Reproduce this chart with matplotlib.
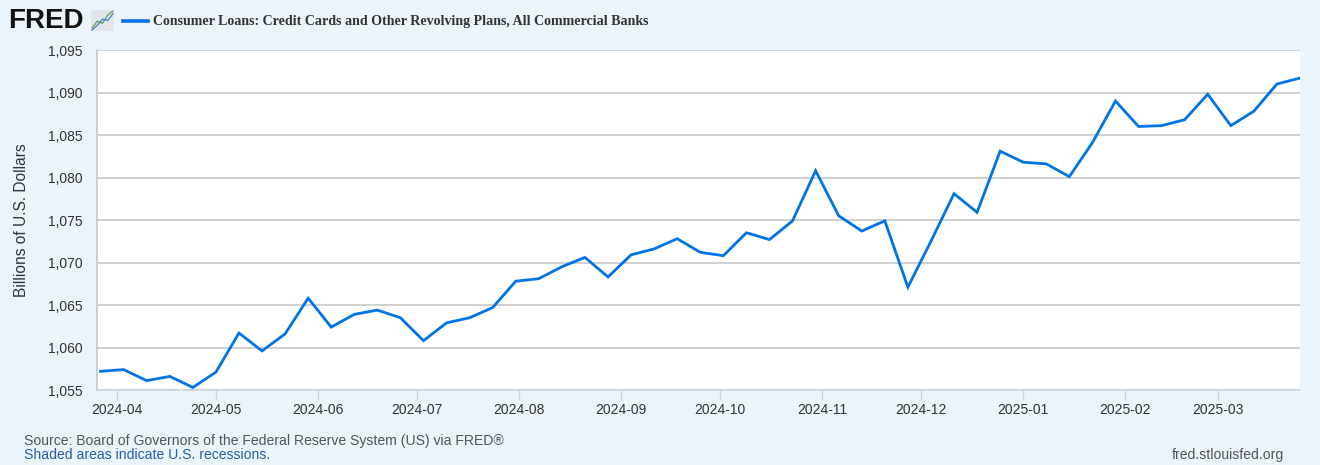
import numpy as np
import pandas as pd
import matplotlib
matplotlib.use("Agg")
import matplotlib.pyplot as plt
import matplotlib.dates as mdates

# weekly values, billions of dollars
dates = pd.date_range("2024-03-27", "2025-03-26", freq="7D")
values = [
    1057.2, 1057.4, 1056.1, 1056.6, 1055.3, 1057.1, 1061.7, 1059.6, 1061.6, 1065.8,
    1062.4, 1063.9, 1064.4, 1063.5, 1060.8, 1062.9, 1063.5, 1064.7, 1067.8, 1068.1,
    1069.5, 1070.6, 1068.3, 1070.9, 1071.6, 1072.8, 1071.2, 1070.8, 1073.5, 1072.7,
    1074.9, 1080.8, 1075.5, 1073.7, 1074.9, 1067.1, 1072.5, 1078.1, 1075.9, 1083.1,
    1081.8, 1081.6, 1080.1, 1084.1, 1089.0, 1086.0, 1086.1, 1086.8, 1089.8, 1086.1,
    1087.8, 1091.0, 1091.7,
]
y_ticks = [1055, 1060, 1065, 1070, 1075, 1080, 1085, 1090, 1095]
title = "Consumer Loans: Credit Cards and Other Revolving Plans, All Commercial Banks"

bg = "#ebf3fb"
line_col = "#0073e6"

plt.rcParams["font.family"] = ["Liberation Sans", "DejaVu Sans"]

fig = plt.figure(figsize=(13.2, 4.65), dpi=100, facecolor=bg)
ax = fig.add_axes([97 / 1320, 1 - 390 / 465, 1203 / 1320, 340 / 465])
ax.set_facecolor("white")

ax.plot(dates, values, color=line_col, lw=2.0, solid_joinstyle="miter")

ax.set_ylim(1055, 1095)
ax.set_yticks(y_ticks)
ax.set_yticklabels([f"{v:,}" for v in y_ticks])
ax.set_xlim(pd.Timestamp("2024-03-25 22:00"), dates[-1])
ax.xaxis.set_major_locator(mdates.MonthLocator())
ax.xaxis.set_major_formatter(mdates.DateFormatter("%Y-%m"))

ax.grid(axis="y", color="#c4c4c4", lw=1.1)
ax.set_axisbelow(True)
for s in ["top", "right"]:
    ax.spines[s].set_visible(False)
ax.spines["left"].set_color("#c4c4c4")
ax.spines["left"].set_linewidth(1.1)
ax.spines["bottom"].set_color("#c8d4e6")
ax.spines["bottom"].set_linewidth(1.1)

ax.tick_params(axis="y", length=0, pad=10.5, labelsize=10, labelcolor="#333333")
ax.tick_params(axis="x", length=7, width=1, color="#c8d4e6", pad=2,
               labelsize=10, labelcolor="#333333")

fig.text(22 / 1320, 1 - 220 / 465, "Billions of U.S. Dollars", rotation=90,
         ha="center", va="center", fontsize=11.2, color="#333333")

# header: logo + legend
fig.text(8 / 1320, 1 - 21 / 465, "FRED", fontsize=20, fontweight="bold",
         color="#111111", ha="left", va="center")
icon = fig.add_axes([91 / 1320, 1 - 31 / 465, 23 / 1320, 21 / 465])
icon.set_facecolor("#e2e6ea")
icon.plot([0, 1, 2, 3, 4], [0.5, 1.5, 1.2, 2.4, 3.0], color="#5aa05a", lw=0.9)
icon.plot([0, 1, 2, 3, 4], [0.2, 0.9, 1.8, 1.6, 2.6], color="#4a7ec0", lw=0.9)
icon.set_xticks([])
icon.set_yticks([])
for s in icon.spines.values():
    s.set_visible(False)
fig.lines.append(plt.Line2D([123 / 1320, 148 / 1320], [1 - 21 / 465, 1 - 21 / 465],
                            transform=fig.transFigure, color=line_col, lw=2.6))
fig.text(153 / 1320, 1 - 21 / 465, title, fontsize=10.05, fontweight="bold",
         family=["Liberation Serif", "DejaVu Serif"], color="#333333",
         ha="left", va="center")

# footer
fig.text(24 / 1320, 1 - 441 / 465, "Source: Board of Governors of the Federal Reserve System (US) via FRED\u00ae",
         fontsize=10.1, color="#555555", ha="left", va="center")
fig.text(24 / 1320, 1 - 455 / 465, "Shaded areas indicate U.S. recessions.",
         fontsize=10.1, color="#2a5da8", ha="left", va="center")
fig.text(1284 / 1320, 1 - 455 / 465, "fred.stlouisfed.org",
         fontsize=10.1, color="#555555", ha="right", va="center")

fig.savefig("out.png", dpi=100, facecolor=bg)
